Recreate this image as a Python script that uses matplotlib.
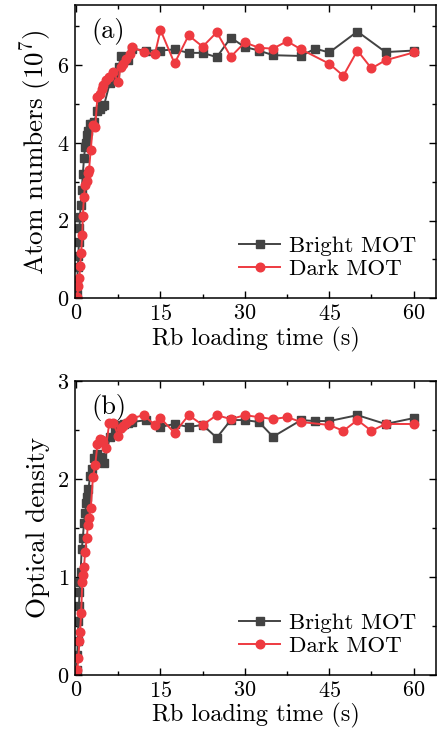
import matplotlib
matplotlib.use("Agg")
import matplotlib.pyplot as plt
from matplotlib.ticker import MultipleLocator

plt.rcParams['font.family'] = ['cmr10', 'DejaVu Serif']
plt.rcParams['mathtext.fontset'] = 'cm'
plt.rcParams['axes.unicode_minus'] = False
plt.rcParams['axes.formatter.use_mathtext'] = True

# ---- data ----
bright_t = [0.1, 0.2, 0.3, 0.4, 0.5, 0.6, 0.7, 0.8, 1.0, 1.2, 1.4, 1.6, 1.8, 2.0, 2.2,
            2.5, 2.9, 3.2, 3.8, 4.2, 4.6, 5.0, 6.0, 6.9, 7.6, 7.9, 8.5, 9.3, 10, 12.5,
            15, 17.5, 20, 22.5, 25, 27.5, 30, 32.5, 35, 40, 42.5, 45, 50, 55, 60]
bright_atoms = [0.1, 0.45, 0.8, 1.1, 1.45, 1.8, 2.1, 2.4, 2.8, 3.2, 3.6, 3.9, 4.0, 4.2, 4.3,
                4.5, 4.5, 4.55, 4.82, 4.87, 4.95, 4.99, 5.55, 5.72, 5.95, 6.24, 6.17, 6.13, 6.42, 6.38,
                6.38, 6.41, 6.32, 6.32, 6.21, 6.71, 6.47, 6.38, 6.26, 6.24, 6.43, 6.33, 6.87, 6.34, 6.38]
bright_od = [0.05, 0.2, 0.35, 0.55, 0.7, 0.85, 0.95, 1.05, 1.28, 1.40, 1.55, 1.65, 1.75, 1.82, 1.90,
             2.03, 2.10, 2.21, 2.25, 2.22, 2.21, 2.16, 2.43, 2.50, 2.52, 2.55, 2.56, 2.57, 2.58, 2.60,
             2.53, 2.56, 2.53, 2.55, 2.42, 2.60, 2.60, 2.58, 2.43, 2.60, 2.59, 2.59, 2.65, 2.56, 2.62]

dark_t = [0.2, 0.4, 0.6, 0.7, 0.9, 1.1, 1.2, 1.4, 1.6, 1.9, 2.1, 2.3, 2.6, 3.0, 3.4,
          3.8, 4.3, 4.6, 4.8, 5.3, 5.9, 6.6, 7.5, 7.9, 8.4, 8.9, 9.5, 10, 12, 14,
          15, 17.5, 20, 22.5, 25, 27.5, 30, 32.5, 35, 37.5, 40, 45, 47.5, 50, 52.5, 55, 60]
dark_atoms = [0.02, 0.32, 0.53, 0.83, 1.17, 1.64, 2.13, 2.62, 2.92, 3.01, 3.22, 3.31, 3.82, 4.46, 4.42,
              5.19, 5.27, 5.40, 5.49, 5.62, 5.70, 5.83, 5.57, 5.96, 6.04, 6.17, 6.30, 6.47, 6.34, 6.28,
              6.91, 6.05, 6.77, 6.48, 6.85, 6.22, 6.59, 6.45, 6.43, 6.62, 6.41, 6.04, 5.73, 6.38, 5.92, 6.13, 6.33]
dark_od = [0.05, 0.17, 0.35, 0.44, 0.63, 0.95, 1.02, 1.10, 1.25, 1.40, 1.53, 1.60, 1.70, 2.02, 2.14,
           2.36, 2.41, 2.40, 2.38, 2.32, 2.57, 2.57, 2.44, 2.52, 2.54, 2.57, 2.60, 2.62, 2.65, 2.55,
           2.62, 2.47, 2.65, 2.55, 2.65, 2.61, 2.65, 2.63, 2.61, 2.63, 2.58, 2.55, 2.49, 2.60, 2.49, 2.56, 2.56]

labels = ["Bright MOT", "Dark MOT"]
xticks = [0, 15, 30, 45, 60]

c_bright = "#434343"
c_dark = "#ee3a40"

fig = plt.figure(figsize=(4.41, 7.31), dpi=100)
ax1 = fig.add_axes([0.170, 0.592, 0.819, 0.401])
ax2 = fig.add_axes([0.170, 0.0766, 0.819, 0.4024])

def style(ax, ylim, ymaj, ymin):
    ax.set_xlim(-0.2, 64)
    ax.set_ylim(*ylim)
    ax.set_xticks(xticks)
    ax.xaxis.set_minor_locator(MultipleLocator(7.5))
    ax.yaxis.set_major_locator(MultipleLocator(ymaj))
    ax.yaxis.set_minor_locator(MultipleLocator(ymin))
    ax.tick_params(which='both', direction='in', top=True, right=True, labelsize=16)
    ax.tick_params(which='major', length=5, width=1, pad=4)
    ax.tick_params(which='minor', length=3, width=1)
    for s in ax.spines.values():
        s.set_linewidth(1.1)
    ax.set_xlabel("Rb loading time (s)", fontsize=17.5, labelpad=2)

for ax, yb, yd in [(ax1, bright_atoms, dark_atoms), (ax2, bright_od, dark_od)]:
    ax.plot(bright_t, yb, color=c_bright, marker='s', markersize=5.5, lw=1.4, label=labels[0])
    ax.plot(dark_t, yd, color=c_dark, marker='o', markersize=6.2, lw=1.4, label=labels[1])
    ax.legend(loc='lower right', frameon=False, fontsize=16.5, handlelength=1.8,
              handletextpad=0.4, labelspacing=0.1, borderaxespad=0.45)

style(ax1, (0, 7.55), 2, 1)
style(ax2, (0, 3), 1, 0.5)
ax1.set_ylabel(r"Atom numbers ($10^7$)", fontsize=19.5, labelpad=2)
ax2.set_ylabel("Optical density", fontsize=19.5, labelpad=5)
ax1.text(0.045, 0.955, "(a)", transform=ax1.transAxes, fontsize=19, va='top', ha='left')
ax2.text(0.045, 0.955, "(b)", transform=ax2.transAxes, fontsize=19, va='top', ha='left')

fig.savefig("out.png", dpi=100)
